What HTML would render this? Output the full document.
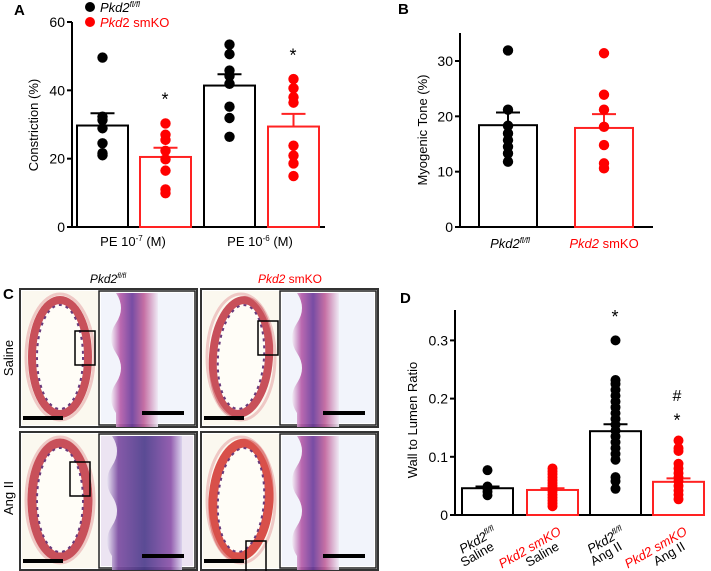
<!DOCTYPE html>
<html><head><meta charset="utf-8"><style>
body{margin:0;background:#fff}
svg{display:block;font-family:"Liberation Sans",Arial,sans-serif}
</style></head><body>
<svg id="fig" width="711" height="571" viewBox="0 0 711 571" xmlns="http://www.w3.org/2000/svg">
<defs>
<linearGradient id="band" x1="0" x2="1">
<stop offset="0" stop-color="#f3eef6"/><stop offset="0.2" stop-color="#b55aa8"/><stop offset="0.45" stop-color="#6a3a9a"/><stop offset="0.7" stop-color="#c0609a"/><stop offset="1" stop-color="#eee8f4"/>
</linearGradient>
<linearGradient id="band2" x1="0" x2="1">
<stop offset="0" stop-color="#e8e4f2"/><stop offset="0.15" stop-color="#7a4aa0"/><stop offset="0.5" stop-color="#4a3a8a"/><stop offset="0.85" stop-color="#8a50a8"/><stop offset="1" stop-color="#d8d0ec"/>
</linearGradient>
</defs>
<g id="A"></g>
<g id="B"></g>
<g id="C"></g>
<g id="D"></g>
</svg>
<script>
// ---- Panel A data ----
const aCategories = ["PE 10-7", "PE 10-6"];
const aMeans = [29.7, 20.5, 41.4, 29.4];
const aErrors = [33.3, 23.2, 44.7, 33.1];
const aPoints0 = [49.6, 32.3, 31.3, 28.9, 24.5, 21.6, 21];
const aPoints1 = [30.3, 27, 25.5, 22.3, 19.8, 16.5, 11, 9.9];
const aPoints2 = [53.4, 50.6, 45.8, 44.2, 41.9, 35.2, 31.9, 26.4];
const aPoints3 = [43.3, 40.6, 38, 36.4, 23.8, 20.9, 18.6, 14.9];
const aTicks = [0, 20, 40, 60];
// ---- Panel B data ----
const bCategories = ["Pkd2 fl/fl", "Pkd2 smKO"];
const bMeans = [18.4, 17.9];
const bErrors = [20.7, 20.4];
const bPoints0 = [31.9, 21.2, 18.3, 16.9, 15.7, 14.5, 13.3, 11.8];
const bPoints1 = [31.4, 23.9, 21.2, 18.1, 14.8, 11.5, 10.6];
const bTicks = [0, 10, 20, 30];
// ---- Panel D data ----
const dMeans = [0.046, 0.043, 0.144, 0.057];
const dErrors = [0.049, 0.046, 0.156, 0.063];
const dPoints0 = [0.077, 0.049, 0.045, 0.04, 0.034];
const dPoints1 = [0.08, 0.075, 0.07, 0.065, 0.06, 0.055, 0.05, 0.045, 0.04, 0.035, 0.03, 0.025, 0.02, 0.015];
const dPoints2 = [0.30, 0.232, 0.225, 0.215, 0.205, 0.195, 0.185, 0.175, 0.165, 0.155, 0.145, 0.135, 0.125, 0.115, 0.105, 0.095, 0.065, 0.058, 0.045];
const dPoints3 = [0.128, 0.115, 0.11, 0.088, 0.08, 0.072, 0.065, 0.058, 0.05, 0.042, 0.035, 0.027];
const dTicks = [0, 0.1, 0.2, 0.3];

const NS = "http://www.w3.org/2000/svg";
function mk(parent, tag, attrs, text){
  const e = document.createElementNS(NS, tag);
  for (const k in attrs) e.setAttribute(k, attrs[k]);
  if (text !== undefined) e.textContent = text;
  parent.appendChild(e);
  return e;
}

function drawBarChart(g, opt){
  const y = v => opt.y0 - (v - 0) * opt.pxPerUnit;
  const yax = mk(g, "line", {x1:opt.ax, y1:opt.axTop, x2:opt.ax, y2:opt.y0+1, stroke:"#000","stroke-width":2});
  
  
  const xax = mk(g, "line", {x1:opt.ax-1, y1:opt.y0, x2:opt.axRight, y2:opt.y0, stroke:"#000","stroke-width":2});
  
  
  opt.ticks.forEach(t => {
    const tl = mk(g, "line", {x1:opt.ax-5, y1:y(t), x2:opt.ax, y2:y(t), stroke:"#000","stroke-width":2});
    
    
    const tt = mk(g, "text", {x:opt.ax-7, y:y(t)+5, "text-anchor":"end","font-size":14}, opt.fmt ? opt.fmt(t) : String(t));
    
    
  });
  opt.means.forEach((m, i) => {
    const col = opt.colors[i];
    const x0 = opt.barX[i], w = opt.barW;
    const r = mk(g, "rect", {x:x0, y:y(m), width:w, height:opt.y0 - y(m), fill:"#fff", stroke:col, "stroke-width":2});
    
    
    const cx = x0 + w/2;
    const el = mk(g, "line", {x1:cx, y1:y(m), x2:cx, y2:y(opt.errors[i]), stroke:col, "stroke-width":2});
    
    
    const ec = mk(g, "line", {x1:cx-12, y1:y(opt.errors[i]), x2:cx+12, y2:y(opt.errors[i]), stroke:col, "stroke-width":2});
    
    
    opt.points[i].forEach(p => {
      const c = mk(g, "circle", {cx:cx, cy:y(p), r:opt.dotR || 5.2, fill:col === "#000" ? "#000" : "#f00"});
      
      
    });
  });
  return y;
}

// Panel A
const gA = document.getElementById("A");
mk(gA, "text", {x:14, y:15, "font-size":15, "font-weight":"bold"}, "A");
const yA = drawBarChart(gA, {ax:72, axTop:22, y0:227, axRight:325, pxPerUnit:205/60, ticks:aTicks,
  means:aMeans, errors:aErrors, points:[aPoints0,aPoints1,aPoints2,aPoints3],
  colors:["#000","#f22","#000","#f22"], barX:[77,140,204,268], barW:51});
mk(gA, "text", {x:165, y:yA(35.5), "text-anchor":"middle","font-size":18}, "*");
mk(gA, "text", {x:293, y:yA(48.5), "text-anchor":"middle","font-size":18}, "*");
mk(gA, "text", {x:38, y:125, "text-anchor":"middle","font-size":13, transform:"rotate(-90 38 125)"}, "Constriction (%)");
const ax1 = mk(gA, "text", {x:133, y:246, "text-anchor":"middle","font-size":13});
ax1.innerHTML = 'PE 10<tspan dy="-5" font-size="8">-7</tspan><tspan dy="5"> (M)</tspan>';
const ax2 = mk(gA, "text", {x:260, y:246, "text-anchor":"middle","font-size":13});
ax2.innerHTML = 'PE 10<tspan dy="-5" font-size="8">-6</tspan><tspan dy="5"> (M)</tspan>';
const lg = mk(gA, "g", {});


mk(lg, "circle", {cx:90, cy:7, r:5, fill:"#000"});
const l1 = mk(lg, "text", {x:100, y:12, "font-size":13, "font-style":"italic"});
l1.innerHTML = 'Pkd2<tspan dy="-5" font-size="8">fl/fl</tspan>';
mk(lg, "circle", {cx:90, cy:22, r:5, fill:"#f00"});
const l2 = mk(lg, "text", {x:100, y:27, "font-size":13, fill:"#f00"});
l2.innerHTML = '<tspan font-style="italic">Pkd</tspan>2 smKO';

// Panel B
const gB = document.getElementById("B");
mk(gB, "text", {x:398, y:14, "font-size":15, "font-weight":"bold"}, "B");
drawBarChart(gB, {ax:460, axTop:33, y0:227, axRight:653, pxPerUnit:166/30, ticks:bTicks,
  means:bMeans, errors:bErrors, points:[bPoints0,bPoints1],
  colors:["#000","#f22"], barX:[479,575], barW:58});
mk(gB, "text", {x:427, y:130, "text-anchor":"middle","font-size":13, transform:"rotate(-90 427 130)"}, "Myogenic Tone (%)");
const bx1 = mk(gB, "text", {x:510, y:248, "text-anchor":"middle","font-size":13, "font-style":"italic"});
bx1.innerHTML = 'Pkd2<tspan dy="-5" font-size="8">fl/fl</tspan>';
const bx2 = mk(gB, "text", {x:604, y:248, "text-anchor":"middle","font-size":13, fill:"#f00"});
bx2.innerHTML = '<tspan font-style="italic">Pkd2</tspan> smKO';

// Panel D
const gD = document.getElementById("D");
mk(gD, "text", {x:400, y:303, "font-size":15, "font-weight":"bold"}, "D");
const yD = drawBarChart(gD, {ax:455, axTop:310, y0:515, axRight:705, pxPerUnit:582, ticks:dTicks,
  fmt: t => t === 0 ? "0" : t.toFixed(1),
  means:dMeans, errors:dErrors, points:[dPoints0,dPoints1,dPoints2,dPoints3],
  colors:["#000","#f22","#000","#f22"], barX:[462,527,590,653], barW:51, dotR:5});
mk(gD, "text", {x:615, y:yD(0.33), "text-anchor":"middle","font-size":18}, "*");
mk(gD, "text", {x:677, y:yD(0.196), "text-anchor":"middle","font-size":16}, "#");
mk(gD, "text", {x:677, y:yD(0.152), "text-anchor":"middle","font-size":18}, "*");
mk(gD, "text", {x:417, y:420, "text-anchor":"middle","font-size":13, transform:"rotate(-90 417 420)"}, "Wall to Lumen Ratio");
const dl = [
  [487, 'Pkd2<tspan dy="-5" font-size="8">fl/fl</tspan>', "#000"],
  [552, 'Pkd2 smKO', "#f00"],
  [615, 'Pkd2<tspan dy="-5" font-size="8">fl/fl</tspan>', "#000"],
  [678, 'Pkd2 smKO', "#f00"]];
const dl2 = ["Saline","Saline","Ang II","Ang II"];
dl.forEach((d, i) => {
  const ax = d[0] + 10, ay = 534;
  const t = mk(gD, "text", {x:ax, y:ay, "text-anchor":"end","font-size":13,"font-style":"italic", fill:d[2], transform:`rotate(-30 ${ax} ${ay})`});
  t.innerHTML = d[1];
  
  
  const bx = d[0] + 8, by = 549;
  const t2 = mk(gD, "text", {x:bx, y:by, "text-anchor":"end","font-size":13, transform:`rotate(-30 ${bx} ${by})`}, dl2[i]);
  
  
});

// Panel C (histology approximation)
const gC = document.getElementById("C");
mk(gC, "text", {x:3, y:299, "font-size":15, "font-weight":"bold"}, "C");
const ch1 = mk(gC, "text", {x:108, y:283, "text-anchor":"middle","font-size":12,"font-style":"italic"});
ch1.innerHTML = 'Pkd2<tspan dy="-5" font-size="7">fl/fl</tspan>';
const ch2 = mk(gC, "text", {x:290, y:283, "text-anchor":"middle","font-size":12, fill:"#f00"});
ch2.innerHTML = '<tspan font-style="italic">Pkd2</tspan> smKO';
mk(gC, "text", {x:13, y:358, "text-anchor":"middle","font-size":13, transform:"rotate(-90 13 358)"}, "Saline");
mk(gC, "text", {x:13, y:498, "text-anchor":"middle","font-size":13, transform:"rotate(-90 13 498)"}, "Ang II");
const frames = [[20,289,"saline-fl"],[201,289,"saline-ko"],[20,432,"angii-fl"],[201,432,"angii-ko"]];
frames.forEach((f, i) => {
  const [fx, fy, nm] = f;
  const g = mk(gC, "g", {});
  
  
  mk(g, "rect", {x:fx, y:fy, width:177, height:138, fill:"#fff", stroke:"#333", "stroke-width":2});
  mk(g, "rect", {x:fx+2, y:fy+2, width:76, height:134, fill:"#fbf8ef"});
  const ang = i % 2 === 0 ? 0 : 4;
  mk(g, "ellipse", {cx:fx+40, cy:fy+68, rx:28, ry:57, fill:"#fffdf7", stroke:i===3?"#d8504a":"#c8505a", "stroke-width":i>=2?9:8, transform:`rotate(${ang} ${fx+40} ${fy+68})`});
  mk(g, "ellipse", {cx:fx+40, cy:fy+68, rx:23, ry:52, fill:"none", stroke:"#6a3a7a", "stroke-width":2, "stroke-dasharray":"3 4", transform:`rotate(${ang} ${fx+40} ${fy+68})`});
  mk(g, "ellipse", {cx:fx+40, cy:fy+68, rx:34, ry:63, fill:"none", stroke:"#e8a8a8", "stroke-width":3, opacity:0.6});
  mk(g, "rect", {x:fx+79, y:fy+2, width:96, height:134, fill:"#fff", stroke:"#222", "stroke-width":1.5});
  mk(g, "rect", {x:fx+81, y:fy+4, width:92, height:130, fill:i===2?"#ece4f2":"#f2f4fb"});
  const bw = i===2 ? 70 : 42;
  const bx = i===2 ? fx+92 : fx+96;
  mk(g, "path", {d:`M${bx} ${fy+4} q10 15 0 30 q-10 15 0 30 q10 15 0 30 q-10 15 0 30 l0 14 h${bw} v-134 z`, fill:i===2?"url(#band2)":"url(#band)", opacity:0.9});
  const boxes = [[fx+55,fy+42],[fx+57,fy+32],[fx+50,fy+30],[fx+45,fy+109]];
  mk(g, "rect", {x:boxes[i][0], y:boxes[i][1], width:20, height:34, fill:"none", stroke:"#000", "stroke-width":1.5});
  mk(g, "rect", {x:fx+3, y:fy+127, width:40, height:4, fill:"#000"});
  mk(g, "rect", {x:fx+122, y:fy+122, width:42, height:4, fill:"#000"});
});
</script>
</body></html>
